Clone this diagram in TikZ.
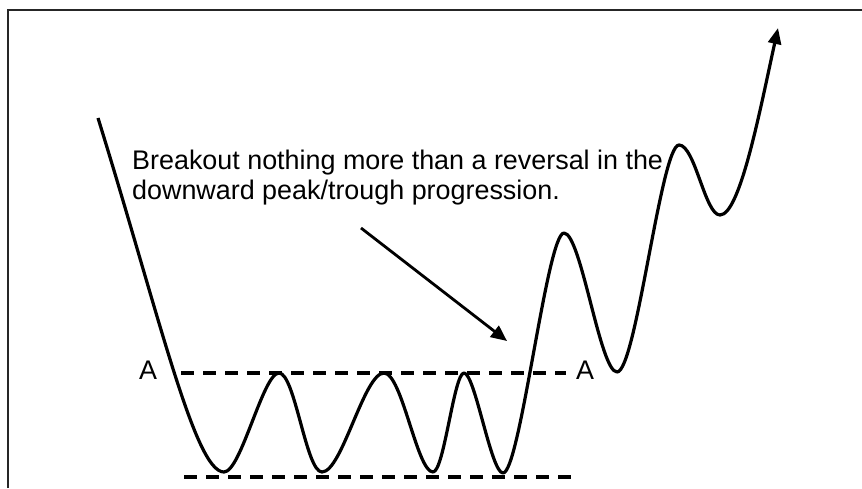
\documentclass[tikz,border=0pt]{standalone}
\usepackage{fontspec}
\setmainfont{Liberation Sans}
\usetikzlibrary{arrows.meta}
\begin{document}
\begin{tikzpicture}[x=1pt,y=-1pt,
  curve/.style={line width=3.2pt,line join=round},
  level/.style={line width=3.8pt,dash pattern=on 13pt off 9pt},
  label/.style={font=\fontsize{26.9}{31}\selectfont,inner sep=0pt,anchor=base west},
  pointer/.style={line width=2.8pt,-{Triangle[length=16pt,width=14pt]}}]
\useasboundingbox (0,0) rectangle (862,488);
% frame
\coordinate (fbl) at (8,488);
\coordinate (ftl) at (8,10);
\coordinate (ftr) at (862,10);
\draw[line width=1.4pt,black!85] (fbl) -- (ftl) -- (ftr);
% key points
\coordinate (s) at (98,118);
\coordinate (t1) at (224,472);
\coordinate (p1) at (279,373);
\coordinate (t2) at (322,472);
\coordinate (p2) at (384,373);
\coordinate (t3) at (433,472);
\coordinate (p3) at (464,373);
\coordinate (t4) at (503,473);
\coordinate (p5) at (564,233);
\coordinate (t5) at (617,372);
\coordinate (p6) at (679,145);
\coordinate (t6) at (720,215);
\coordinate (e) at (778,28);
\draw[curve,-{Triangle[length=16pt,width=13pt]}] (s)
  .. controls (160,318) and (195,472) .. (t1)
  .. controls (241,472) and (263,373) .. (p1)
  .. controls (295,373) and (306,472) .. (t2)
  .. controls (342,472) and (364,373) .. (p2)
  .. controls (402,373) and (417,472) .. (t3)
  .. controls (444,472) and (454,373) .. (p3)
  .. controls (475,373) and (491,473) .. (t4)
  .. controls (520,473) and (547,233) .. (p5)
  .. controls (581,233) and (600,372) .. (t5)
  .. controls (636,372) and (661,145) .. (p6)
  .. controls (695,145) and (705,215) .. (t6)
  .. controls (740,215) and (760,110) .. (e);
% dashed levels
\coordinate (a1) at (181,373);
\coordinate (a2) at (566,373);
\coordinate (b1) at (184,477);
\coordinate (b2) at (572,477);
\draw[level] (a1) -- (a2);
\draw[level] (b1) -- (b2);
\node[label] (la) at (139,379) {A};
\node[label] (ra) at (576,379) {A};
% text
\node[label] (l1) at (132,169) {Breakout nothing more than a reversal in the};
\node[label] (l2) at (132,199) {downward peak/trough progression.};
\coordinate (ps) at (361,228);
\coordinate (pe) at (507,341);
\draw[pointer] (ps) -- (pe);
\end{tikzpicture}
\end{document}
